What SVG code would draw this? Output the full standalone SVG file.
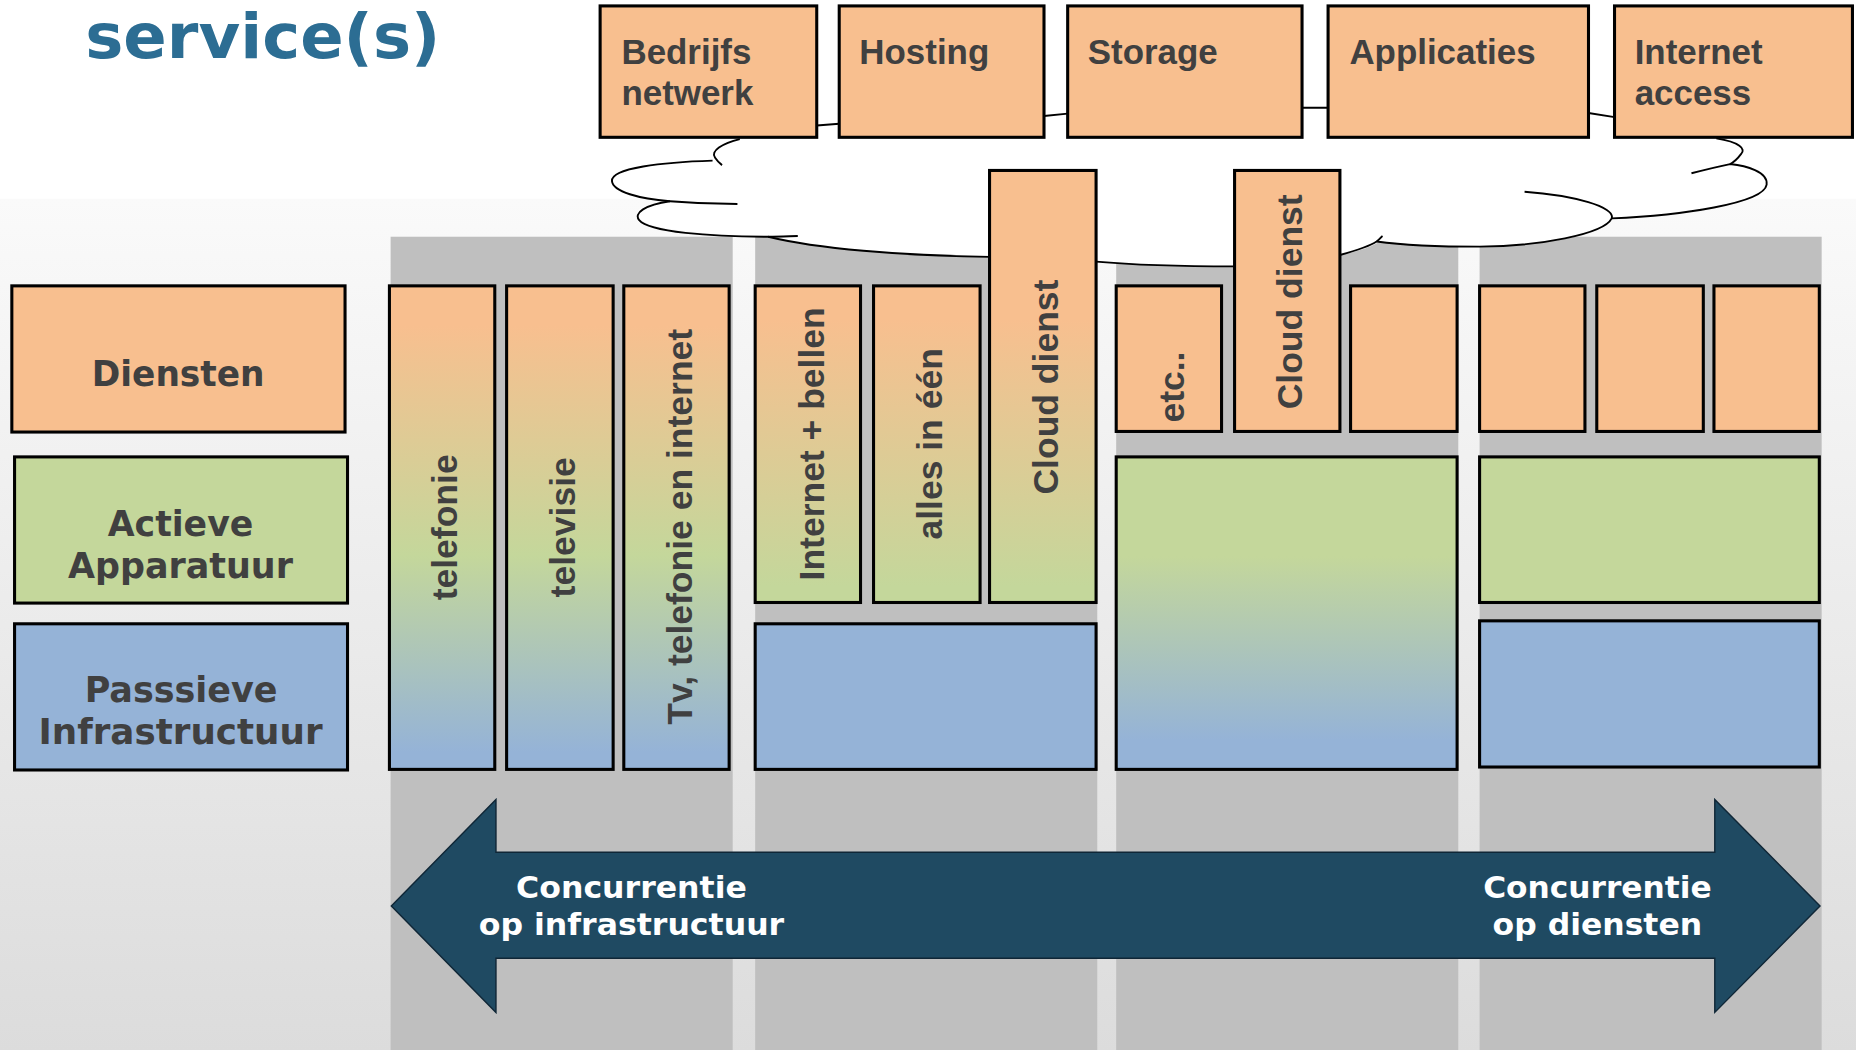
<svg xmlns="http://www.w3.org/2000/svg" width="1856" height="1050" viewBox="0 0 1856 1050">
<defs>
<linearGradient id="bg" x1="0" y1="0" x2="0" y2="1">
<stop offset="0" stop-color="#fafafa"/>
<stop offset="1" stop-color="#dcdcdc"/>
</linearGradient>
<linearGradient id="layers" gradientUnits="userSpaceOnUse" x1="0" y1="275" x2="0" y2="635">
<stop offset="0" stop-color="#F8BF8F"/>
<stop offset="0.54" stop-color="#C4D79B"/>
<stop offset="1" stop-color="#95B3D7"/>
</linearGradient>
<linearGradient id="pg" gradientUnits="userSpaceOnUse" x1="0" y1="270" x2="0" y2="495">
<stop offset="0" stop-color="#F8BF8F"/>
<stop offset="1" stop-color="#C4D79B"/>
</linearGradient>
<linearGradient id="gb" gradientUnits="userSpaceOnUse" x1="0" y1="470" x2="0" y2="625">
<stop offset="0" stop-color="#C4D79B"/>
<stop offset="1" stop-color="#95B3D7"/>
</linearGradient>
<style>
.box{stroke:#000;stroke-width:2.6}
.peach{fill:#F8BF8F}
.green{fill:#C4D79B}
.blue{fill:#95B3D7}
.grad{fill:url(#layers)}
.gpg{fill:url(#pg)}
.ggb{fill:url(#gb)}
.col{fill:#bfbfbf}
.lbl{font-family:"DejaVu Sans","Liberation Sans",sans-serif;font-weight:bold;font-size:30px;fill:#404040}
.txt{font-family:"Liberation Sans",Arial,sans-serif;font-weight:bold;font-size:29.5px;fill:#404040}
.vt{font-family:"Liberation Sans",Arial,sans-serif;font-weight:bold;font-size:30px;fill:#404040}
.cl{fill:none;stroke:#000;stroke-width:1.6}
.arr{font-family:"DejaVu Sans","Liberation Sans",sans-serif;font-weight:bold;font-size:26px;fill:#fff}
</style>
</defs>
<rect x="0" y="0" width="1856" height="1050" fill="#ffffff"/>
<g transform="scale(1.183673)">
<rect x="0" y="168" width="1568" height="720" fill="url(#bg)"/>
<text x="72" y="49" font-family="DejaVu Sans, sans-serif" font-weight="bold" font-size="52" fill="#2C6D93" textLength="300" lengthAdjust="spacingAndGlyphs">service(s)</text>

<g id="columns">
<rect class="col" x="330" y="200" width="289" height="688"/>
<rect class="col" x="638" y="200" width="289" height="688"/>
<rect class="col" x="943" y="200" width="289" height="688"/>
<rect class="col" x="1250" y="200" width="289" height="688"/>
</g>

<g id="cloud">
<path fill="#fff" d="M625,108 L1450,108 L1450,116.9 C1478,122 1475,134 1461.6,138.6 C1490,143 1500,158 1485,166 C1460,178 1400,182 1361.6,184.5 C1365,195 1310,208 1250,208.4 C1215,208.4 1185,206 1166,204 C1155,210 1145,213 1132,215.4 L1042,225 C1000,225 960,224 926.5,221 L836.4,217 C760,215 690,210 649,200 C600,198 545,195 539,183 C535,175 550,172 566,170 C530,165 510,158 517,150 C525,140 570,137 602,135.7 C600,125 612,118 625,117 Z"/>
<path class="cl" d="M625,117.5 C610,121 600,128 604,133 C606,136 608,138 610,139.5"/>
<path class="cl" d="M602,135.7 C560,137 516,142 517,153 C518,162 540,168 566,170 C590,172 610,172.4 623,172.4"/>
<path class="cl" d="M566,170 C545,173 535,180 540,186 C548,196 600,200 649,200 C660,200 668,199.5 674,199.4"/>
<path class="cl" d="M649,200 C690,210 760,216 836,217"/>
<path class="cl" d="M926,221 C960,224 1000,225 1043,225"/>
<path class="cl" d="M1132,215.4 C1148,211 1160,206 1163,204 C1166,202 1167,200 1168,199.4"/>
<path class="cl" d="M1163,204 C1185,207 1215,208.4 1250,208.4 C1300,208 1355,198 1361.6,184.5 C1365,175 1330,165 1288,162"/>
<path class="cl" d="M1361.6,184.5 C1420,182 1490,172 1492.5,156 C1494,145 1475,140 1461.6,138.6 C1450,141 1438,144 1429,146.4"/>
<path class="cl" d="M1450,116.9 C1470,120 1475,126 1471,130 C1468,134 1465,137 1461.6,138.6"/>
<path class="cl" d="M690,106 L709,104.5 M882,98 L902,96 M1100,91 L1122,91 M1342,95.5 L1364,99"/>
</g>

<g id="svc-bedrijfsnetwerk">
<rect class="box peach" x="507" y="5" width="183" height="111"/>
<text class="txt" x="525" y="54">Bedrijfs</text>
<text class="txt" x="525" y="89">netwerk</text>
</g>
<g id="svc-hosting">
<rect class="box peach" x="709" y="5" width="173" height="111"/>
<text class="txt" x="726" y="54">Hosting</text>
</g>
<g id="svc-storage">
<rect class="box peach" x="902" y="5" width="198" height="111"/>
<text class="txt" x="919" y="54">Storage</text>
</g>
<g id="svc-applicaties">
<rect class="box peach" x="1122" y="5" width="220" height="111"/>
<text class="txt" x="1140" y="54">Applicaties</text>
</g>
<g id="svc-internetaccess">
<rect class="box peach" x="1364" y="5" width="201" height="111"/>
<text class="txt" x="1381" y="54">Internet</text>
<text class="txt" x="1381" y="89">access</text>
</g>

<g id="legend-diensten">
<rect class="box peach" x="10" y="241.5" width="281.5" height="123.5"/>
<text class="lbl" x="150.5" y="326" text-anchor="middle" textLength="146" lengthAdjust="spacingAndGlyphs">Diensten</text>
</g>
<g id="legend-actieve">
<rect class="box green" x="12.3" y="386" width="281.3" height="123.5"/>
<text class="lbl" x="152.5" y="452.8" text-anchor="middle" textLength="123" lengthAdjust="spacingAndGlyphs">Actieve</text>
<text class="lbl" x="152.5" y="488.6" text-anchor="middle" textLength="190" lengthAdjust="spacingAndGlyphs">Apparatuur</text>
</g>
<g id="legend-passieve">
<rect class="box blue" x="12.3" y="527" width="281.3" height="123.5"/>
<text class="lbl" x="153" y="592.8" text-anchor="middle" textLength="163" lengthAdjust="spacingAndGlyphs">Passsieve</text>
<text class="lbl" x="152.5" y="628.6" text-anchor="middle" textLength="240" lengthAdjust="spacingAndGlyphs">Infrastructuur</text>
</g>

<g id="col1-telefonie">
<rect class="box grad" x="329" y="241.5" width="89" height="408.5"/>
<text class="vt" transform="translate(386.5,445.5) rotate(-90)" text-anchor="middle">telefonie</text>
</g>
<g id="col1-televisie">
<rect class="box grad" x="428" y="241.5" width="90" height="408.5"/>
<text class="vt" transform="translate(486,445.5) rotate(-90)" text-anchor="middle">televisie</text>
</g>
<g id="col1-tv">
<rect class="box grad" x="527" y="241.5" width="89" height="408.5"/>
<text class="vt" transform="translate(584.5,445) rotate(-90)" text-anchor="middle">Tv, telefonie en internet</text>
</g>

<g id="col2-internet-bellen">
<rect class="box gpg" x="638" y="241.5" width="89" height="267.5"/>
<text class="vt" transform="translate(696,375) rotate(-90)" text-anchor="middle">Internet + bellen</text>
</g>
<g id="col2-alles">
<rect class="box gpg" x="738" y="241.5" width="90" height="267.5"/>
<text class="vt" transform="translate(796,375) rotate(-90)" text-anchor="middle">alles in één</text>
</g>
<g id="col2-cloud">
<rect class="box gpg" x="836" y="144" width="90" height="365"/>
<text class="vt" transform="translate(894,327) rotate(-90)" text-anchor="middle">Cloud dienst</text>
</g>
<g id="col2-infra">
<rect class="box blue" x="638" y="527" width="288" height="123"/>
</g>

<g id="col3-etc">
<rect class="box peach" x="943" y="241.5" width="89" height="123"/>
<text class="vt" transform="translate(1000.5,327) rotate(-90)" text-anchor="middle">etc..</text>
</g>
<g id="col3-cloud">
<rect class="box peach" x="1043" y="144" width="89" height="220.5"/>
<text class="vt" transform="translate(1100,255) rotate(-90)" text-anchor="middle">Cloud dienst</text>
</g>
<g id="col3-dienst3">
<rect class="box peach" x="1141" y="241.5" width="90" height="123"/>
</g>
<g id="col3-actief-passief">
<rect class="box ggb" x="943" y="386" width="288" height="264"/>
</g>

<g id="col4-dienst1"><rect class="box peach" x="1250" y="241.5" width="89" height="123"/></g>
<g id="col4-dienst2"><rect class="box peach" x="1349" y="241.5" width="90" height="123"/></g>
<g id="col4-dienst3"><rect class="box peach" x="1448" y="241.5" width="89" height="123"/></g>
<g id="col4-actief"><rect class="box green" x="1250" y="386" width="287" height="123"/></g>
<g id="col4-passief"><rect class="box blue" x="1250" y="524.5" width="287" height="123.5"/></g>

<g id="connectors">
<path d="M330.6,765.5 L419,675.5 L419,720 L1448.7,720 L1448.7,675.5 L1537.6,765.5 L1448.7,855.3 L1448.7,809.6 L419,809.6 L419,855.3 Z" fill="#1F4A62" stroke="#0f2636" stroke-width="1.2"/>
<text class="arr" x="533.5" y="759" text-anchor="middle" textLength="195" lengthAdjust="spacingAndGlyphs">Concurrentie</text>
<text class="arr" x="533.5" y="790" text-anchor="middle" textLength="258" lengthAdjust="spacingAndGlyphs">op infrastructuur</text>
<text class="arr" x="1349.5" y="759" text-anchor="middle" textLength="193" lengthAdjust="spacingAndGlyphs">Concurrentie</text>
<text class="arr" x="1349.5" y="790" text-anchor="middle" textLength="177" lengthAdjust="spacingAndGlyphs">op diensten</text>
</g>
</g>
</svg>
